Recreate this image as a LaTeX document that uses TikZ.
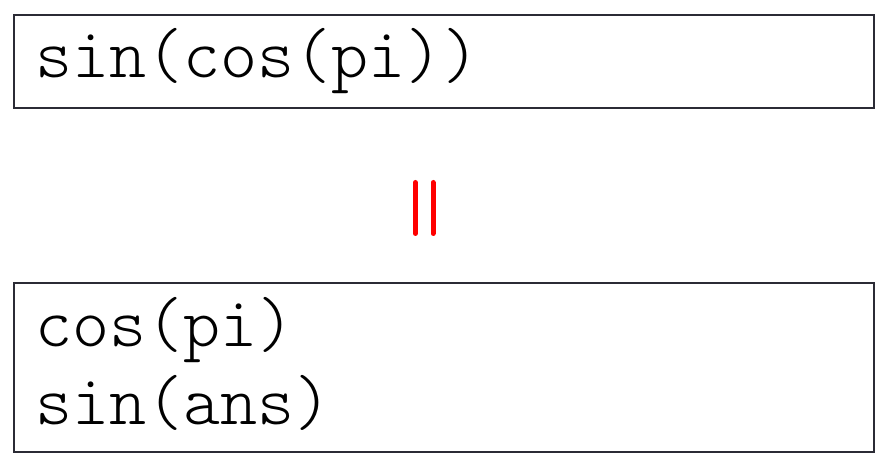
\documentclass[tikz,border=0pt]{standalone}
\usepackage{fontspec}
\newfontfamily\codefont{Latin Modern Mono Light}
\definecolor{boxline}{HTML}{2B2B35}
\begin{document}
\begin{tikzpicture}[x=1pt,y=1pt,
  codebox/.style={draw=boxline, line width=1.6pt, rectangle, inner sep=0pt, anchor=north west},
  codetext/.style={inner sep=0pt, anchor=base west, font=\codefont\fontsize{70.5}{78}\selectfont},
  eqbar/.style={draw=red, line width=5pt, line cap=round}]
\useasboundingbox (0,0) rectangle (886,468);
\node[codebox, minimum width=860pt, minimum height=93pt] (top) at (13,454) {};
\node[codebox, minimum width=860pt, minimum height=169pt] (bot) at (13,186) {};
\node[codetext] (t1) at (35,390) {sin(cos(pi))};
\node[codetext] (b1) at (35,121) {cos(pi)};
\node[codetext] (b2) at (35,43) {sin(ans)};
\coordinate (l1) at (415.3,285.5);
\coordinate (l2) at (415.3,234.5);
\coordinate (r1) at (433,285.5);
\coordinate (r2) at (433,234.5);
\draw[eqbar] (l1) -- (l2);
\draw[eqbar] (r1) -- (r2);
\end{tikzpicture}
\end{document}
